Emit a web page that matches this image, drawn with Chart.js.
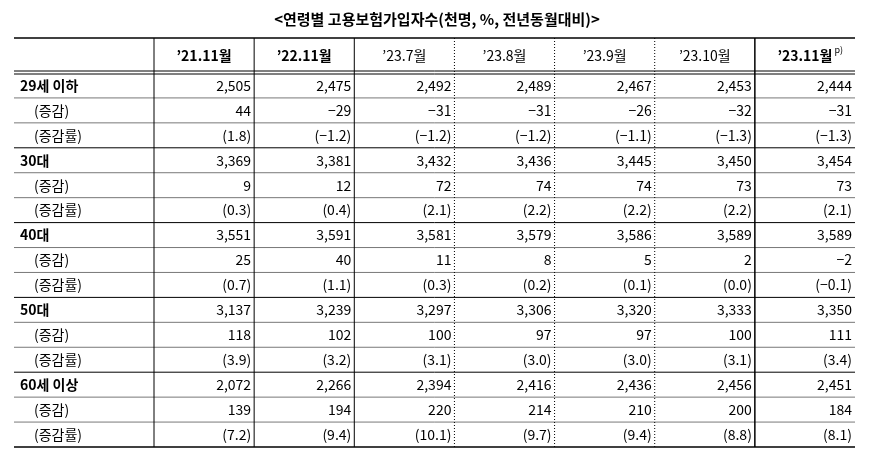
<!DOCTYPE html><html><head><meta charset="utf-8">
<script src="https://cdn.jsdelivr.net/npm/chart.js@4"></script>
<style>html,body{margin:0;background:#fff}#w{width:872px;height:474px}</style></head><body><div id="w"><canvas id="c"></canvas></div>
<script>
const title = "<연령별 고용보험가입자수(천명, %, 전년동월대비)>";
const columns = ["’21.11월","’22.11월","’23.7월","’23.8월","’23.9월","’23.10월","’23.11월"];
const boldCols = [0,1,6];
const rowLabels = ["29세 이하","(증감)","(증감률)","30대","(증감)","(증감률)","40대","(증감)","(증감률)","50대","(증감)","(증감률)","60세 이상","(증감)","(증감률)"];
const age29 = ["2,505","2,475","2,492","2,489","2,467","2,453","2,444"];
const age29Chg = ["44","−29","−31","−31","−26","−32","−31"];
const age29Rate = ["(1.8)","(−1.2)","(−1.2)","(−1.2)","(−1.1)","(−1.3)","(−1.3)"];
const age30 = ["3,369","3,381","3,432","3,436","3,445","3,450","3,454"];
const age30Chg = ["9","12","72","74","74","73","73"];
const age30Rate = ["(0.3)","(0.4)","(2.1)","(2.2)","(2.2)","(2.2)","(2.1)"];
const age40 = ["3,551","3,591","3,581","3,579","3,586","3,589","3,589"];
const age40Chg = ["25","40","11","8","5","2","−2"];
const age40Rate = ["(0.7)","(1.1)","(0.3)","(0.2)","(0.1)","(0.0)","(−0.1)"];
const age50 = ["3,137","3,239","3,297","3,306","3,320","3,333","3,350"];
const age50Chg = ["118","102","100","97","97","100","111"];
const age50Rate = ["(3.9)","(3.2)","(3.1)","(3.0)","(3.0)","(3.1)","(3.4)"];
const age60 = ["2,072","2,266","2,394","2,416","2,436","2,456","2,451"];
const age60Chg = ["139","194","220","214","210","200","184"];
const age60Rate = ["(7.2)","(9.4)","(10.1)","(9.7)","(9.4)","(8.8)","(8.1)"];
const rows = [age29,age29Chg,age29Rate,age30,age30Chg,age30Rate,age40,age40Chg,age40Rate,age50,age50Chg,age50Rate,age60,age60Chg,age60Rate];

const F = '"Noto Sans CJK KR", sans-serif';
const tablePlugin = {
  id:'table',
  afterDraw(chart){
    const ctx = chart.ctx, xs = chart.scales.x, ys = chart.scales.y, a = chart.chartArea;
    const cw = (a.right-a.left)/columns.length, rh = (a.bottom-a.top)/rowLabels.length;
    const L = 14, top = 38;
    ctx.save();
    ctx.fillStyle='#000'; ctx.font='bold 15px '+F; ctx.textAlign='center'; ctx.textBaseline='middle';
    ctx.fillText(title, 437, 19);
    const hline=(y,w)=>{ctx.lineWidth=w;ctx.beginPath();ctx.moveTo(L,y);ctx.lineTo(a.right,y);ctx.stroke();};
    ctx.strokeStyle='#000';
    hline(top,1.5);
    hline(a.top-2,1); hline(a.top+1,1);
    for(let r=1;r<rowLabels.length;r++){
      const y = ys.getPixelForValue(r)-rh/2;
      if(r%3===0){hline(y,1);} else {ctx.strokeStyle='#555';hline(y,0.8);ctx.strokeStyle='#000';}
    }
    hline(a.bottom,1.5);
    for(let c=0;c<columns.length;c++){
      const x = xs.getPixelForValue(c)-cw/2;
      ctx.setLineDash((c>=3&&c<=5)?[1,2]:[]);
      ctx.lineWidth = (c===6)?1.5:1;
      ctx.beginPath();ctx.moveTo(x,top);ctx.lineTo(x,a.bottom);ctx.stroke();
    }
    ctx.setLineDash([]);
    columns.forEach((t,c)=>{
      const x=xs.getPixelForValue(c);
      ctx.font=(boldCols.includes(c)?'bold ':'')+'14px '+F;
      ctx.textAlign='center';
      const w=ctx.measureText(t).width;
      ctx.fillText(t,x,(top+a.top)/2);
      if(c===6){ctx.font='9px '+F;ctx.textAlign='left';ctx.fillText('p)',x+w/2+2,(top+a.top)/2-6);}
    });
    rowLabels.forEach((lab,r)=>{
      const y=ys.getPixelForValue(r);
      const grp = r%3===0;
      ctx.font=(grp?'bold ':'')+'14px '+F;
      ctx.textAlign='left';
      ctx.fillText(lab, grp?20:34, y);
      ctx.font='14px '+F; ctx.textAlign='right';
      rows[r].forEach((v,c)=>ctx.fillText(v, xs.getPixelForValue(c)+cw/2-3, y));
    });
    ctx.restore();
  }
};
new Chart(document.getElementById('c'),{
  type:'bar',
  data:{labels:columns.map((_,i)=>i),datasets:[{data:[]}]},
  options:{responsive:true,maintainAspectRatio:false,animation:false,
    layout:{padding:{left:154,right:17,top:73,bottom:27}},
    plugins:{legend:{display:false},tooltip:{enabled:false}},
    scales:{
      x:{type:'category',labels:columns.map((_,i)=>i),offset:true,display:false},
      y:{type:'category',labels:rowLabels.map((_,i)=>i),offset:true,display:false}
    }},
  plugins:[tablePlugin]
});
</script></body></html>
